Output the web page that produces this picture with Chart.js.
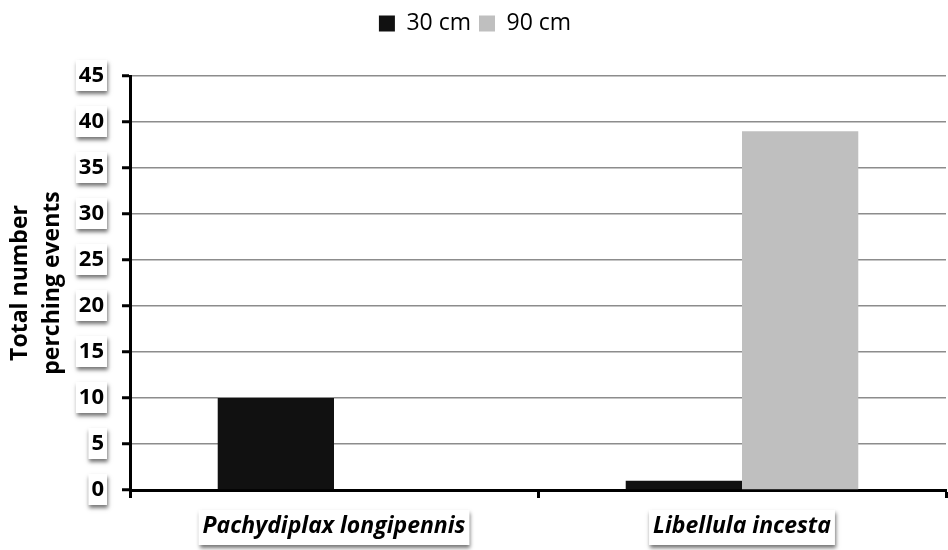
<!DOCTYPE html>
<html>
<head>
<meta charset="utf-8">
<script src="https://cdn.jsdelivr.net/npm/chart.js@4"></script>
<style>
  body { margin: 0; background: #fff; }
  #wrap { width: 948px; height: 550px; }
</style>
</head>
<body>
<div id="wrap"><canvas id="myChart"></canvas></div>
<script>
const species = ['Pachydiplax longipennis', 'Libellula incesta']
const perch30 = [10, 1]
const perch90 = [0, 39]
const yTicks = [0, 5, 10, 15, 20, 25, 30, 35, 40, 45]

const FONT = "'Open Sans', sans-serif"

// white label boxes with a soft drop shadow, drawn under the tick labels
const labelBoxes = {
    id: 'labelBoxes',
    beforeDraw(chart) {
        const ctx = chart.ctx
        const box = (x, y, w, h) => {
            ctx.save()
            ctx.shadowColor = 'rgba(0,0,0,0.55)'
            ctx.shadowBlur = 4
            ctx.shadowOffsetX = 1
            ctx.shadowOffsetY = 3
            ctx.fillStyle = '#fff'
            ctx.fillRect(x, y, w, h)
            ctx.restore()
        }
        const ys = chart.scales.y
        ctx.save()
        ctx.font = 'bold 22px ' + FONT
        ys.ticks.forEach((t, i) => {
            const w = ctx.measureText(String(t.value)).width
            const py = ys.getPixelForTick(i)
            const right = ys.right - 26
            box(right - w - 3, py - 16, w + 6, 31)
        })
        const xs = chart.scales.x
        ctx.font = 'italic bold 23px ' + FONT
        xs.ticks.forEach((t, i) => {
            const w = ctx.measureText(species[i]).width
            const px = xs.getPixelForTick(i)
            box(px - w / 2 - 4, xs.top + 20, w + 8, 35)
        })
        ctx.restore()
    }
}

// extra space below the legend
const legendGap = {
    id: 'legendGap',
    beforeInit(chart) {
        const fit = chart.legend.fit
        chart.legend.fit = function () {
            fit.call(this)
            this.height += 31
        }
    }
}

new Chart(document.getElementById('myChart'), {
    type: 'bar',
    data: {
        labels: species,
        datasets: [
            { label: '30 cm', data: perch30, backgroundColor: '#111111' },
            { label: '90 cm', data: perch90, backgroundColor: '#bfbfbf' }
        ]
    },
    options: {
        responsive: true,
        maintainAspectRatio: false,
        animation: false,
        layout: { padding: { left: 4, right: 2, top: 4, bottom: 0 } },
        datasets: { bar: { categoryPercentage: 0.57, barPercentage: 1.0 } },
        plugins: {
            legend: {
                position: 'top',
                labels: {
                    font: { family: FONT, size: 23 },
                    color: '#000',
                    boxWidth: 16, boxHeight: 16,
                    padding: 8
                }
            },
            tooltip: { enabled: false }
        },
        scales: {
            x: {
                afterFit: axis => { axis.height = 60 },
                grid: { offset: true, drawOnChartArea: false, tickLength: 8, tickColor: '#000', tickWidth: 3 },
                border: { color: '#000', width: 3 },
                ticks: {
                    font: { family: FONT, size: 23, weight: 'bold', style: 'italic' },
                    color: '#000', padding: 15, maxRotation: 0
                }
            },
            y: {
                min: 0, max: 45,
                afterBuildTicks: axis => { axis.ticks = yTicks.map(v => ({ value: v })) },
                afterFit: axis => { axis.width = 126 },
                grid: { color: '#8c8c8c', lineWidth: 1.5, tickLength: 8, tickColor: '#000', tickWidth: 3 },
                border: { color: '#000', width: 3 },
                ticks: {
                    font: { family: FONT, size: 22, weight: 'bold' },
                    color: '#000', padding: 18
                },
                title: {
                    display: true,
                    text: ['Total number', 'perching events'],
                    font: { family: FONT, size: 23, weight: 'bold', lineHeight: 1.4 },
                    color: '#000', padding: { top: 0, bottom: 4 }
                }
            }
        }
    },
    plugins: [labelBoxes, legendGap]
})
</script>
</body>
</html>
